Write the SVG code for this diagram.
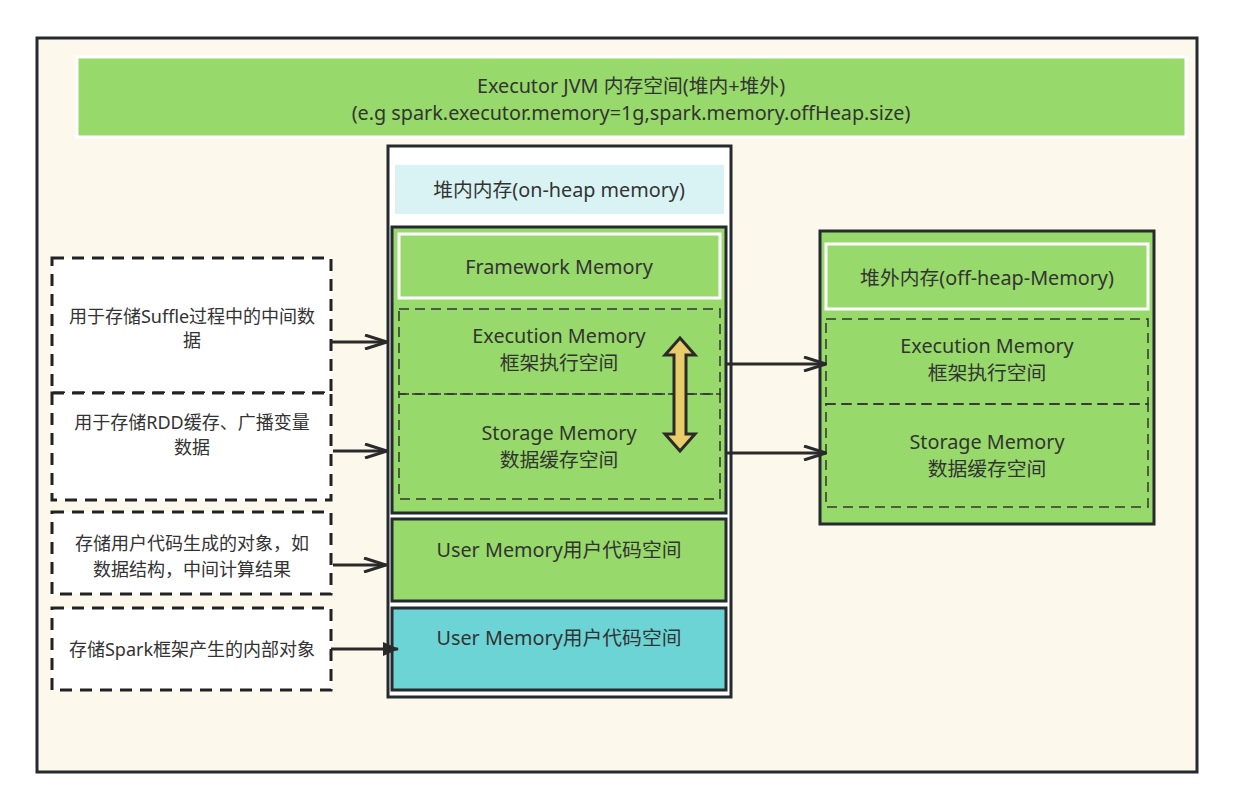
<svg xmlns="http://www.w3.org/2000/svg" width="1234" height="810" viewBox="0 0 1234 810">
<defs>
<style>
text{font-family:"Noto Sans","Noto Sans CJK SC",sans-serif;fill:#333;text-anchor:middle;font-size:19.8px}
.sm{font-size:18px}
.dash{fill:none;stroke:#333;stroke-width:1.5;stroke-dasharray:10 6}
.ldash{fill:#fff;stroke:#222;stroke-width:3;stroke-dasharray:12 8}
.blk{stroke:#242a2e;stroke-width:3}
.con{stroke:#2a2a2a;stroke-width:3;fill:none}
</style>
<marker id="openL" viewBox="0 0 24 16" refX="23" refY="8" markerWidth="24" markerHeight="16" markerUnits="userSpaceOnUse" orient="auto">
<path d="M1,1 L23,8 L1,15" fill="none" stroke="#2a2a2a" stroke-width="3"/>
</marker>
<marker id="tri" viewBox="0 0 16 14" refX="15" refY="7" markerWidth="16" markerHeight="14" markerUnits="userSpaceOnUse" orient="auto">
<path d="M0,0 L16,7 L0,14 Z" fill="#2a2a2a"/>
</marker>
</defs>
<rect x="0" y="0" width="1234" height="810" fill="#fff"/>
<g id="frame">
<rect x="37" y="38" width="1160" height="734" fill="#fcf8ec" stroke="#242a2e" stroke-width="3"/>
</g>
<g id="banner">
<rect x="77" y="57" width="1109" height="80" fill="#97d96a" stroke="#fff" stroke-width="3"/>
<text x="631" y="93">Executor JVM 内存空间(堆内+堆外)</text>
<text x="631" y="120">(e.g spark.executor.memory=1g,spark.memory.offHeap.size)</text>
</g>
<g id="onheap">
<rect x="388" y="146" width="343" height="551" fill="#fff" class="blk"/>
<rect x="395" y="165" width="329" height="49" fill="#d9f3f4"/>
<text x="559" y="197">堆内内存(on-heap memory)</text>
</g>
<g id="unified">
<rect x="392" y="227" width="334" height="286" fill="#97d96a" class="blk"/>
</g>
<g id="framework">
<rect x="399" y="234" width="321" height="64" fill="#97d96a" stroke="#fff" stroke-width="3"/>
<text x="559" y="274">Framework Memory</text>
</g>
<g id="exec-on">
<rect x="399" y="309" width="321" height="85" class="dash"/>
<text x="559" y="343">Execution Memory</text>
<text x="559" y="370">框架执行空间</text>
</g>
<g id="storage-on">
<rect x="399" y="394" width="321" height="105" class="dash"/>
<text x="559" y="440">Storage Memory</text>
<text x="559" y="467">数据缓存空间</text>
</g>
<g id="dbl-arrow">
<path d="M680,338 L695,355 L686,355 L686,434 L695,434 L680,451 L665,434 L674,434 L674,355 L665,355 Z" fill="#e8cd6a" stroke="#2a2a2a" stroke-width="3" stroke-linejoin="miter"/>
</g>
<g id="user-mem">
<rect x="392" y="519" width="334" height="82" fill="#97d96a" class="blk"/>
<text x="559" y="557">User Memory用户代码空间</text>
</g>
<g id="reserved-mem">
<rect x="392" y="608" width="334" height="82" fill="#6dd4d6" class="blk"/>
<text x="559" y="645">User Memory用户代码空间</text>
</g>
<g id="offheap">
<rect x="820" y="231" width="334" height="293" fill="#97d96a" class="blk"/>
<rect x="826" y="244" width="322" height="65" fill="#97d96a" stroke="#fff" stroke-width="3"/>
<text x="987" y="285">堆外内存(off-heap-Memory)</text>
</g>
<g id="exec-off">
<rect x="826" y="319" width="322" height="85" class="dash"/>
<text x="987" y="353">Execution Memory</text>
<text x="987" y="380">框架执行空间</text>
</g>
<g id="storage-off">
<rect x="826" y="404" width="322" height="103" class="dash"/>
<text x="987" y="449">Storage Memory</text>
<text x="987" y="476">数据缓存空间</text>
</g>
<g id="note1">
<rect x="52" y="258" width="279" height="135" class="ldash"/>
<text x="192" y="323" class="sm">用于存储Suffle过程中的中间数</text>
<text x="192" y="347" class="sm">据</text>
</g>
<g id="note2">
<rect x="52" y="393" width="279" height="107" class="ldash"/>
<text x="192" y="429" class="sm">用于存储RDD缓存、广播变量</text>
<text x="192" y="454" class="sm">数据</text>
</g>
<g id="note3">
<rect x="52" y="512" width="279" height="82" class="ldash"/>
<text x="192" y="550" class="sm">存储用户代码生成的对象，如</text>
<text x="192" y="576" class="sm">数据结构，中间计算结果</text>
</g>
<g id="note4">
<rect x="52" y="608" width="279" height="82" class="ldash"/>
<text x="192" y="656" class="sm">存储Spark框架产生的内部对象</text>
</g>
<g id="connectors">
<line x1="331" y1="342" x2="387" y2="342" class="con" marker-end="url(#openL)"/>
<line x1="333" y1="451" x2="387" y2="451" class="con" marker-end="url(#openL)"/>
<line x1="333" y1="565" x2="386" y2="565" class="con" marker-end="url(#openL)"/>
<line x1="331" y1="649" x2="398" y2="649" class="con" marker-end="url(#tri)"/>
<line x1="726" y1="364" x2="826" y2="364" class="con" marker-end="url(#openL)"/>
<line x1="726" y1="453" x2="826" y2="453" class="con" marker-end="url(#openL)"/>
</g>
</svg>
